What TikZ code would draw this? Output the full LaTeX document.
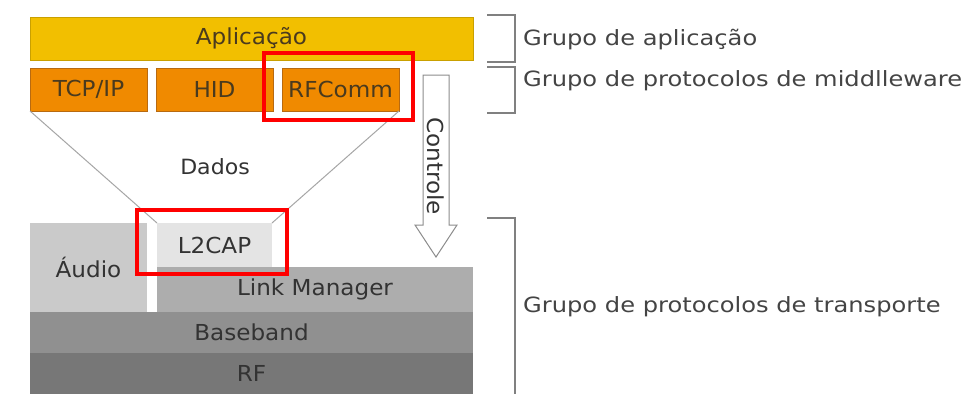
\documentclass[tikz,border=0pt]{standalone}
\usepackage{fontspec}
\setmainfont{DejaVu Sans}[FakeStretch=1.15]
\newfontfamily\boxfont{DejaVu Sans}[FakeStretch=1.05]
\definecolor{appfill}{HTML}{F2BF00}
\definecolor{appline}{HTML}{C9A000}
\definecolor{protfill}{HTML}{F08A00}
\definecolor{protline}{HTML}{B86A10}
\definecolor{boxtext}{HTML}{4A3A1E}
\definecolor{gtext}{HTML}{333333}
\definecolor{audiofill}{HTML}{CACACA}
\definecolor{l2fill}{HTML}{E4E4E4}
\definecolor{lmfill}{HTML}{ADADAD}
\definecolor{bbfill}{HTML}{909090}
\definecolor{rffill}{HTML}{777777}
\definecolor{hlred}{HTML}{FF0000}
\definecolor{bracketc}{HTML}{808080}
\definecolor{labeltext}{HTML}{444444}
\begin{document}
\begin{tikzpicture}[x=1pt,y=-1pt,
  layer/.style={inner sep=0pt, outer sep=0pt, font=\boxfont\fontsize{22}{22}\selectfont, text=gtext},
  appbox/.style={layer, draw=appline, line width=1pt, fill=appfill, text=boxtext},
  protbox/.style={layer, draw=protline, line width=1pt, fill=protfill, text=boxtext, minimum width=117pt, minimum height=43pt},
  highlight/.style={draw=hlred, line width=4pt, inner sep=0pt, outer sep=0pt},
  bracket/.style={draw=bracketc, line width=1.5pt},
  grouplabel/.style={anchor=base west, inner sep=0pt, text=labeltext, font=\fontsize{21}{21}\selectfont},
  funnel/.style={draw=black!35, line width=1pt},
  ctrlarrow/.style={draw=black!45, line width=1pt, fill=white}
]
\useasboundingbox (0,0) rectangle (974,394);
\fill[white] (0,0) rectangle (974,394);

% application layer
\node[appbox, minimum width=443pt, minimum height=43pt] (app) at (251.5,38.5) {Aplicação};
% middleware protocols
\node[protbox] (tcp) at (88.5,89.5) {TCP/IP};
\node[protbox] (hid) at (214.5,89.5) {HID};
\node[protbox] (rfc) at (340.5,89.5) {RFComm};

% transport stack
\node[layer, fill=audiofill, minimum width=117pt, minimum height=89pt] (audio) at (88.5,267.5) {Áudio};
\node[layer, fill=l2fill, minimum width=115pt, minimum height=44pt] (l2cap) at (214.5,245) {L2CAP};
\node[layer, fill=lmfill, minimum width=316pt, minimum height=45pt] (lm) at (315,289.5) {Link Manager};
\node[layer, fill=bbfill, minimum width=443pt, minimum height=41pt] (bb) at (251.5,332.5) {Baseband};
\node[layer, fill=rffill, minimum width=443pt, minimum height=41pt] (rf) at (251.5,373.5) {RF};

% funnel lines
\draw[funnel] (tcp.south west) -- (l2cap.north west);
\draw[funnel] (rfc.south east) -- (l2cap.north east);
\node[layer, text=gtext, font=\boxfont\fontsize{21}{21}\selectfont] (dados) at (215,167) {Dados};

% control arrow
\draw[ctrlarrow] (423,75) -- (449,75) -- (449,225) -- (457,225) -- (436,257) -- (415,225) -- (423,225) -- cycle;
\node[layer, rotate=-90, font=\boxfont\fontsize{22}{22}\selectfont] (ctrl) at (436,166) {Controle};

% highlight boxes
\node[highlight, minimum width=149pt, minimum height=67pt] (hl1) at (338.5,86.5) {};
\node[highlight, minimum width=150pt, minimum height=64pt] (hl2) at (212,242) {};

% group brackets
\draw[bracket] (487,15) -- (515,15) -- (515,62) -- (487,62);
\draw[bracket] (487,67) -- (515,67) -- (515,113) -- (487,113);
\draw[bracket] (487,218) -- (515,218) -- (515,394);
\node[grouplabel] (g1) at (523,45) {Grupo de aplicação};
\node[grouplabel] (g2) at (523,86) {Grupo de protocolos de middlleware};
\node[grouplabel] (g3) at (523,312) {Grupo de protocolos de transporte};
\end{tikzpicture}
\end{document}
